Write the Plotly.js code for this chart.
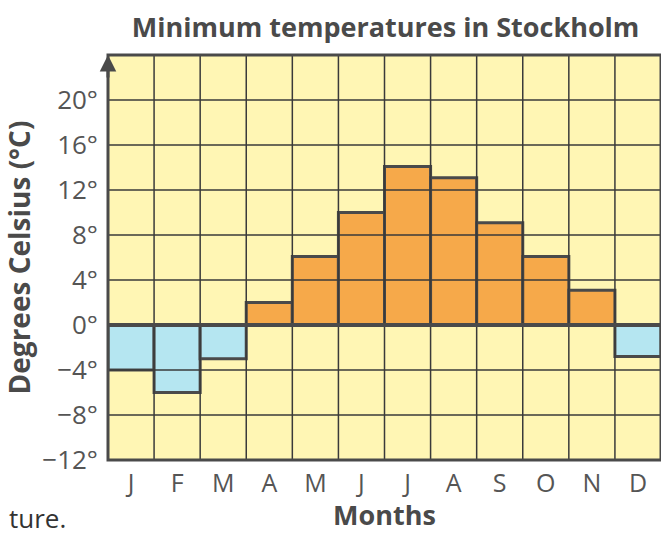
<!DOCTYPE html>
<html>
<head>
<meta charset="utf-8">
<script src="https://cdn.plot.ly/plotly-3.0.1.min.js"></script>
<style>html,body{margin:0;padding:0;background:#fff;}#chart{width:661px;height:533px;}</style>
</head>
<body>
<div id="chart"></div>
<script>
const months = ["J","F","M","A","M","J","J","A","S","O","N","D"];
const minTemps = [-4, -6, -3, 2, 6.1, 10, 14.1, 13.1, 9.1, 6.1, 3.1, -2.8];
const yTickVals = [-12, -8, -4, 0, 4, 8, 12, 16, 20];
const yTickText = ["\u221212\u00b0", "\u22128\u00b0", "\u22124\u00b0", "0\u00b0", "4\u00b0", "8\u00b0", "12\u00b0", "16\u00b0", "20\u00b0"];
const yGridVals = [-8, -4, 4, 8, 12, 16, 20];

const idx = months.map((m, i) => i);
const ink = "#4a4a4a";
const fontFam = "'Open Sans', 'Noto Sans', sans-serif";

const trace = {
  type: "bar",
  x: idx,
  y: minTemps,
  width: 1,
  marker: {
    color: minTemps.map(v => v >= 0 ? "#f6a94a" : "#b5e6f1"),
    line: {color: ink, width: 3}
  },
  hoverinfo: "skip"
};

const shapes = [];
for (let i = 1; i < months.length; i++) {
  shapes.push({type: "line", layer: "above", xref: "x", yref: "paper", x0: i - 0.5, x1: i - 0.5, y0: 0, y1: 1, line: {color: "#3a3a3a", width: 1.5}});
}
yGridVals.forEach(v => shapes.push({type: "line", layer: "above", xref: "paper", yref: "y", x0: 0, x1: 1, y0: v, y1: v, line: {color: "#3a3a3a", width: 1.5}}));
shapes.push({type: "line", layer: "above", xref: "paper", yref: "y", x0: 0, x1: 1, y0: 0, y1: 0, line: {color: ink, width: 4}});
shapes.push({type: "rect", layer: "above", xref: "paper", yref: "paper", x0: 0, x1: 1, y0: 0, y1: 1, line: {color: ink, width: 3}});

const layout = {
  width: 661, height: 533,
  margin: {l: 108, r: 0, t: 55, b: 73},
  paper_bgcolor: "#ffffff",
  plot_bgcolor: "#fff6b4",
  showlegend: false,
  title: {
    text: "<b>Minimum temperatures in Stockholm</b>",
    font: {family: fontFam, size: 27, color: ink},
    xref: "paper", x: 0.502, xanchor: "center",
    yref: "container", y: 0.948, yanchor: "middle"
  },
  xaxis: {
    range: [-0.5, 11.5],
    tickvals: idx,
    ticktext: months,
    showgrid: false, zeroline: false, showline: false,
    ticks: "",
    ticklabelstandoff: 6,
    tickfont: {family: fontFam, size: 25, color: "#555"},
    title: {text: "<b>Months</b>", font: {family: fontFam, size: 27, color: ink}, standoff: 2},
    fixedrange: true
  },
  yaxis: {
    range: [-12, 24],
    tickvals: yTickVals,
    ticktext: yTickText,
    showgrid: false, zeroline: false, showline: false,
    ticks: "",
    ticklabelstandoff: 9,
    tickfont: {family: fontFam, size: 26, color: "#555"},
    title: {text: "<b>Degrees Celsius (\u00b0C)</b>", font: {family: fontFam, size: 28, color: ink}, standoff: 4},
    fixedrange: true
  },
  shapes: shapes,
  annotations: [
    {xref: "paper", yref: "paper", x: 0, y: 1, ax: 0, ay: 24, axref: "pixel", ayref: "pixel",
     text: "", showarrow: true, arrowhead: 2, arrowsize: 1.1, arrowwidth: 3, arrowcolor: ink},
    {xref: "paper", yref: "paper", x: -0.182, y: -0.142, xanchor: "left", yanchor: "middle",
     text: "ture.", showarrow: false, font: {family: fontFam, size: 26, color: "#333"}}
  ]
};

Plotly.newPlot("chart", [trace], layout, {displayModeBar: false, staticPlot: true});
</script>
</body>
</html>
